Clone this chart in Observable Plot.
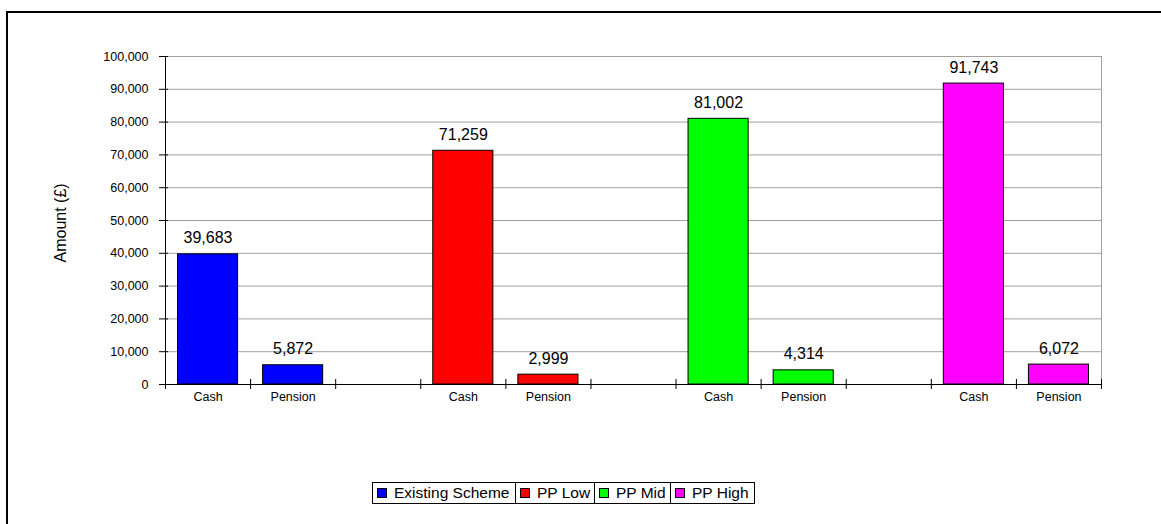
<!DOCTYPE html>
<html>
<head>
<meta charset="utf-8">
<script src="https://cdn.jsdelivr.net/npm/d3@7"></script>
<script src="https://cdn.jsdelivr.net/npm/@observablehq/plot@0.6"></script>
<style>
  html, body { margin: 0; padding: 0; background: #fff; }
  #wrap { position: relative; width: 1161px; height: 524px; overflow: hidden; font-family: "Liberation Sans", Arial, sans-serif; }
  #frame { position: absolute; left: 6px; top: 11px; width: 1160px; height: 520px; border-top: 2px solid #000; border-left: 2px solid #000; pointer-events: none; }
  #chart svg { display: block; }
  #legend { display: flex; margin-left: 372px; margin-top: 4px; border: 1px solid #000; width: fit-content; height: 20px; font-size: 15.5px; color: #000; }
  #legend .cell { display: flex; align-items: center; box-sizing: border-box; padding-left: 4px; border-right: 1px solid #000; height: 20px; white-space: nowrap; }
  #legend .cell:last-child { border-right: none; }
  #legend .sw { width: 10px; height: 10px; box-sizing: border-box; border: 1px solid #000; margin-right: 7px; flex: none; }
</style>
</head>
<body>
<div id="wrap">
  <div id="frame"></div>
  <div id="chart"></div>
  <div id="legend"></div>
</div>
<script>
const groups = ["Existing Scheme", "PP Low", "PP Mid", "PP High"];
const categories = ["Cash", "Pension"];
const cashValues = [39683, 71259, 81002, 91743];
const pensionValues = [5872, 2999, 4314, 6072];
const groupColors = ["#0000ff", "#ff0000", "#00ff00", "#ff00ff"];
const yTicks = [0, 10000, 20000, 30000, 40000, 50000, 60000, 70000, 80000, 90000, 100000];
const yLabel = "Amount (£)";
const legendWidths = [143, 79, 76, 83];

const seriesByCategory = [cashValues, pensionValues];
const slotsPerGroup = categories.length + 1;
const rows = [];
groups.forEach((g, gi) => {
  categories.forEach((c, ci) => {
    rows.push({group: g, category: c, value: seriesByCategory[ci][gi], slot: gi * slotsPerGroup + ci});
  });
});
const nSlots = groups.length * slotsPerGroup - 1;
const boundaries = d3.range(nSlots + 1);
const fmt = d3.format(",");

const chart = Plot.plot({
  width: 1161,
  height: 478,
  marginLeft: 165,
  marginRight: 60,
  marginTop: 56,
  marginBottom: 94,
  style: {fontFamily: "'Liberation Sans', Arial, sans-serif", fontSize: "12px", color: "#000", background: "transparent"},
  x: {domain: [0, nSlots], axis: null},
  y: {domain: [0, 100000], axis: null},
  color: {domain: groups, range: groupColors},
  marks: [
    Plot.ruleY(yTicks, {y: d => d, stroke: "#a0a0a0"}),
    Plot.ruleX([nSlots], {x: d => d, stroke: "#a0a0a0"}),
    Plot.rect(rows, {x1: "slot", x2: d => d.slot + 1, y1: 0, y2: "value", fill: "group", stroke: "#000", strokeWidth: 1, insetLeft: 12.5, insetRight: 12.5}),
    Plot.ruleX([0], {x: d => d, stroke: "#000"}),
    Plot.ruleY([0], {y: d => d, stroke: "#000"}),
    Plot.ruleX(boundaries, {x: d => d, y1: 0, y2: 0, insetTop: -5, insetBottom: -5, stroke: "#000"}),
    Plot.ruleY(yTicks, {y: d => d, x1: 0, x2: 0, insetLeft: -6, insetRight: -3, stroke: "#000"}),
    Plot.text(yTicks, {y: d => d, x: 0, text: d => fmt(d), textAnchor: "end", dx: -17, fontSize: 12.5, fill: "#000"}),
    Plot.text(rows, {x: d => d.slot + 0.5, y: 0, text: "category", dy: 12, fontSize: 12.5, fill: "#000"}),
    Plot.text(rows, {x: d => d.slot + 0.5, y: "value", text: d => fmt(d.value), dy: -16, fontSize: 16, fill: "#000"}),
    Plot.text([yLabel], {frameAnchor: "left", textAnchor: "start", dx: -105, dy: 42, rotate: -90, fontSize: 16, fill: "#000"})
  ]
});
document.getElementById("chart").appendChild(chart);

const legend = document.getElementById("legend");
groups.forEach((g, i) => {
  const cell = document.createElement("div");
  cell.className = "cell";
  cell.style.width = legendWidths[i] + "px";
  const sw = document.createElement("div");
  sw.className = "sw";
  sw.style.background = groupColors[i];
  const t = document.createElement("span");
  t.textContent = g;
  cell.appendChild(sw);
  cell.appendChild(t);
  legend.appendChild(cell);
});
</script>
</body>
</html>
